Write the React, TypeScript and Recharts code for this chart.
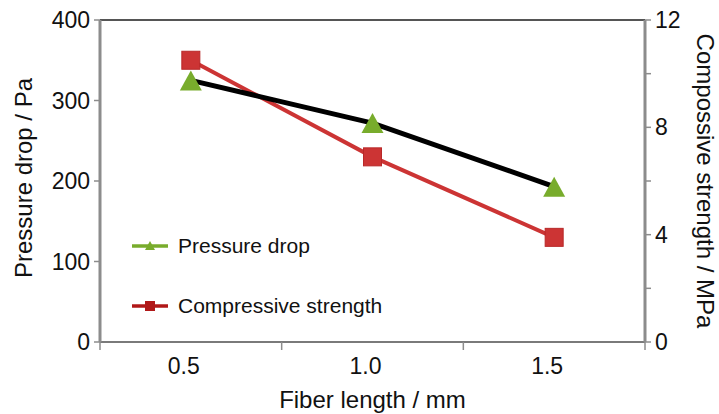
import * as React from 'react';
import {
  LineChart,
  Line,
  XAxis,
  YAxis,
  Legend,
  ReferenceLine,
} from 'recharts';

// ---------------------------------------------------------------------------
// Data
// ---------------------------------------------------------------------------

const fiberLength = [0.5, 1.0, 1.5];
const pressureDrop = [325, 272, 193];
const compressiveStrength = [10.5, 6.9, 3.9];

const leftTicks = [0, 100, 200, 300, 400];
const rightTicks = [0, 2, 4, 6, 8, 10, 12];
const rightLabelled = [0, 4, 8, 12];
const xBoundaries = [0.25, 0.75, 1.25, 1.75];

const seriesNames = ['Pressure drop', 'Compressive strength'];

const data = fiberLength.map((x, i) => ({
  x,
  pressure: pressureDrop[i],
  strength: compressiveStrength[i],
}));

const FONT = '"Liberation Sans", Arial, sans-serif';
const GREEN = '#78ac2c';
const RED = '#cc3434';
const AXIS_GREY = '#8c8c8c';
const TICK_SIZE = 23;
const TITLE_SIZE = 24;

// ---------------------------------------------------------------------------
// Markers
// ---------------------------------------------------------------------------

function TriangleDot(props: any) {
  const { cx, cy } = props;
  if (cx == null || cy == null) return null;
  const w = 11;
  const h = 10;
  return (
    <polygon
      points={`${cx},${cy - h} ${cx - w},${cy + h} ${cx + w},${cy + h}`}
      fill={GREEN}
    />
  );
}

function SquareDot(props: any) {
  const { cx, cy } = props;
  if (cx == null || cy == null) return null;
  const s = 9;
  return (
    <rect
      x={cx - s}
      y={cy - s}
      width={s * 2}
      height={s * 2}
      fill={RED}
      stroke="#b82828"
      strokeWidth={1}
    />
  );
}

// ---------------------------------------------------------------------------
// Ticks
// ---------------------------------------------------------------------------

function XTick(props: any) {
  const { x, y, payload } = props;
  const v = payload.value;
  if (xBoundaries.includes(v)) {
    return <line x1={x} y1={y} x2={x} y2={y + 8} stroke={AXIS_GREY} strokeWidth={1.5} />;
  }
  return (
    <text x={x - 7} y={y + 24} textAnchor="middle" dominantBaseline="central" fill="#111" fontSize={TICK_SIZE} fontFamily={FONT}>
      {v.toFixed(1)}
    </text>
  );
}

function LeftTick(props: any) {
  const { x, y, payload } = props;
  return (
    <text x={x} y={y} textAnchor="end" dominantBaseline="central" fill="#111" fontSize={TICK_SIZE} fontFamily={FONT}>
      {payload.value}
    </text>
  );
}

function RightTick(props: any) {
  const { x, y, payload } = props;
  if (!rightLabelled.includes(payload.value)) return null;
  return (
    <text x={x} y={y} textAnchor="start" dominantBaseline="central" fill="#111" fontSize={TICK_SIZE} fontFamily={FONT}>
      {payload.value}
    </text>
  );
}

// ---------------------------------------------------------------------------
// Legend
// ---------------------------------------------------------------------------

function ChartLegend() {
  const rows = [
    { name: seriesNames[0], color: GREEN, marker: 'triangle' },
    { name: seriesNames[1], color: '#b01818', marker: 'square' },
  ];
  return (
    <div style={{ fontFamily: FONT, fontSize: 21, color: '#111' }}>
      {rows.map((r, i) => (
        <div key={r.name} style={{ display: 'flex', alignItems: 'center', height: 26, marginBottom: i === 0 ? 34 : 0 }}>
          <svg width={40} height={14} style={{ marginRight: 8 }}>
            <line x1={2} y1={7} x2={38} y2={7} stroke={r.color} strokeWidth={3.5} />
            {r.marker === 'triangle' ? (
              <polygon points="20,2 15,11 25,11" fill={r.color} />
            ) : (
              <rect x={15} y={2} width={10} height={10} fill={r.color} />
            )}
          </svg>
          <span>{r.name}</span>
        </div>
      ))}
    </div>
  );
}

// ---------------------------------------------------------------------------
// Chart
// ---------------------------------------------------------------------------

export default function App() {
  return (
    <div style={{ position: 'fixed', left: 0, top: 0, width: 719, height: 414, background: '#fff' }}>
      <LineChart
        width={719}
        height={414}
        data={data}
        margin={{ top: 20, right: 0, left: 0, bottom: 0 }}
      >
        <XAxis
          dataKey="x"
          type="number"
          domain={[0.25, 1.75]}
          ticks={[...xBoundaries, ...fiberLength].sort((a, b) => a - b)}
          interval={0}
          height={72}
          tickLine={false}
          tickSize={0}
          tickMargin={0}
          tick={<XTick />}
          axisLine={{ stroke: '#7a7a7a', strokeWidth: 2 }}
          label={({ viewBox }: any) => (
            <text
              x={viewBox.x + viewBox.width / 2}
              y={399}
              textAnchor="middle"
              dominantBaseline="central"
              fontSize={TITLE_SIZE}
              fontFamily={FONT}
              fill="#111"
            >
              Fiber length / mm
            </text>
          )}
        />
        <YAxis
          yAxisId="left"
          orientation="left"
          width={100}
          domain={[0, 400]}
          ticks={leftTicks}
          interval={0}
          tickSize={6}
          tickMargin={4}
          tick={<LeftTick />}
          axisLine={{ stroke: AXIS_GREY, strokeWidth: 3 }}
          tickLine={{ stroke: AXIS_GREY, strokeWidth: 1.5 }}
          label={({ viewBox }: any) => (
            <text
              transform={`translate(23, ${viewBox.y + viewBox.height / 2 - 3}) rotate(-90)`}
              textAnchor="middle"
              dominantBaseline="central"
              fontSize={TITLE_SIZE}
              fontFamily={FONT}
              fill="#111"
            >
              Pressure drop / Pa
            </text>
          )}
        />
        <YAxis
          yAxisId="right"
          orientation="right"
          width={74}
          domain={[0, 12]}
          ticks={rightTicks}
          interval={0}
          tickSize={6}
          tickMargin={4}
          tick={<RightTick />}
          axisLine={{ stroke: AXIS_GREY, strokeWidth: 3 }}
          tickLine={{ stroke: AXIS_GREY, strokeWidth: 1.5 }}
          label={({ viewBox }: any) => (
            <text
              transform={`translate(705, ${viewBox.y + viewBox.height / 2}) rotate(90)`}
              textAnchor="middle"
              dominantBaseline="central"
              fontSize={TITLE_SIZE}
              fontFamily={FONT}
              fill="#111"
            >
              Compossive strength / MPa
            </text>
          )}
        />
        <ReferenceLine yAxisId="left" y={400} stroke="#555" strokeWidth={2} />
        <Legend
          layout="horizontal"
          verticalAlign="middle"
          align="center"
          content={<ChartLegend />}
          wrapperStyle={{ left: 130, top: 233, width: 300 }}
        />
        <Line
          yAxisId="right"
          dataKey="strength"
          name={seriesNames[1]}
          stroke={RED}
          strokeWidth={4}
          dot={<SquareDot />}
          activeDot={false}
          isAnimationActive={false}
        />
        <Line
          yAxisId="left"
          dataKey="pressure"
          name={seriesNames[0]}
          stroke="#000"
          strokeWidth={5}
          dot={<TriangleDot />}
          activeDot={false}
          isAnimationActive={false}
        />
      </LineChart>
    </div>
  );
}
